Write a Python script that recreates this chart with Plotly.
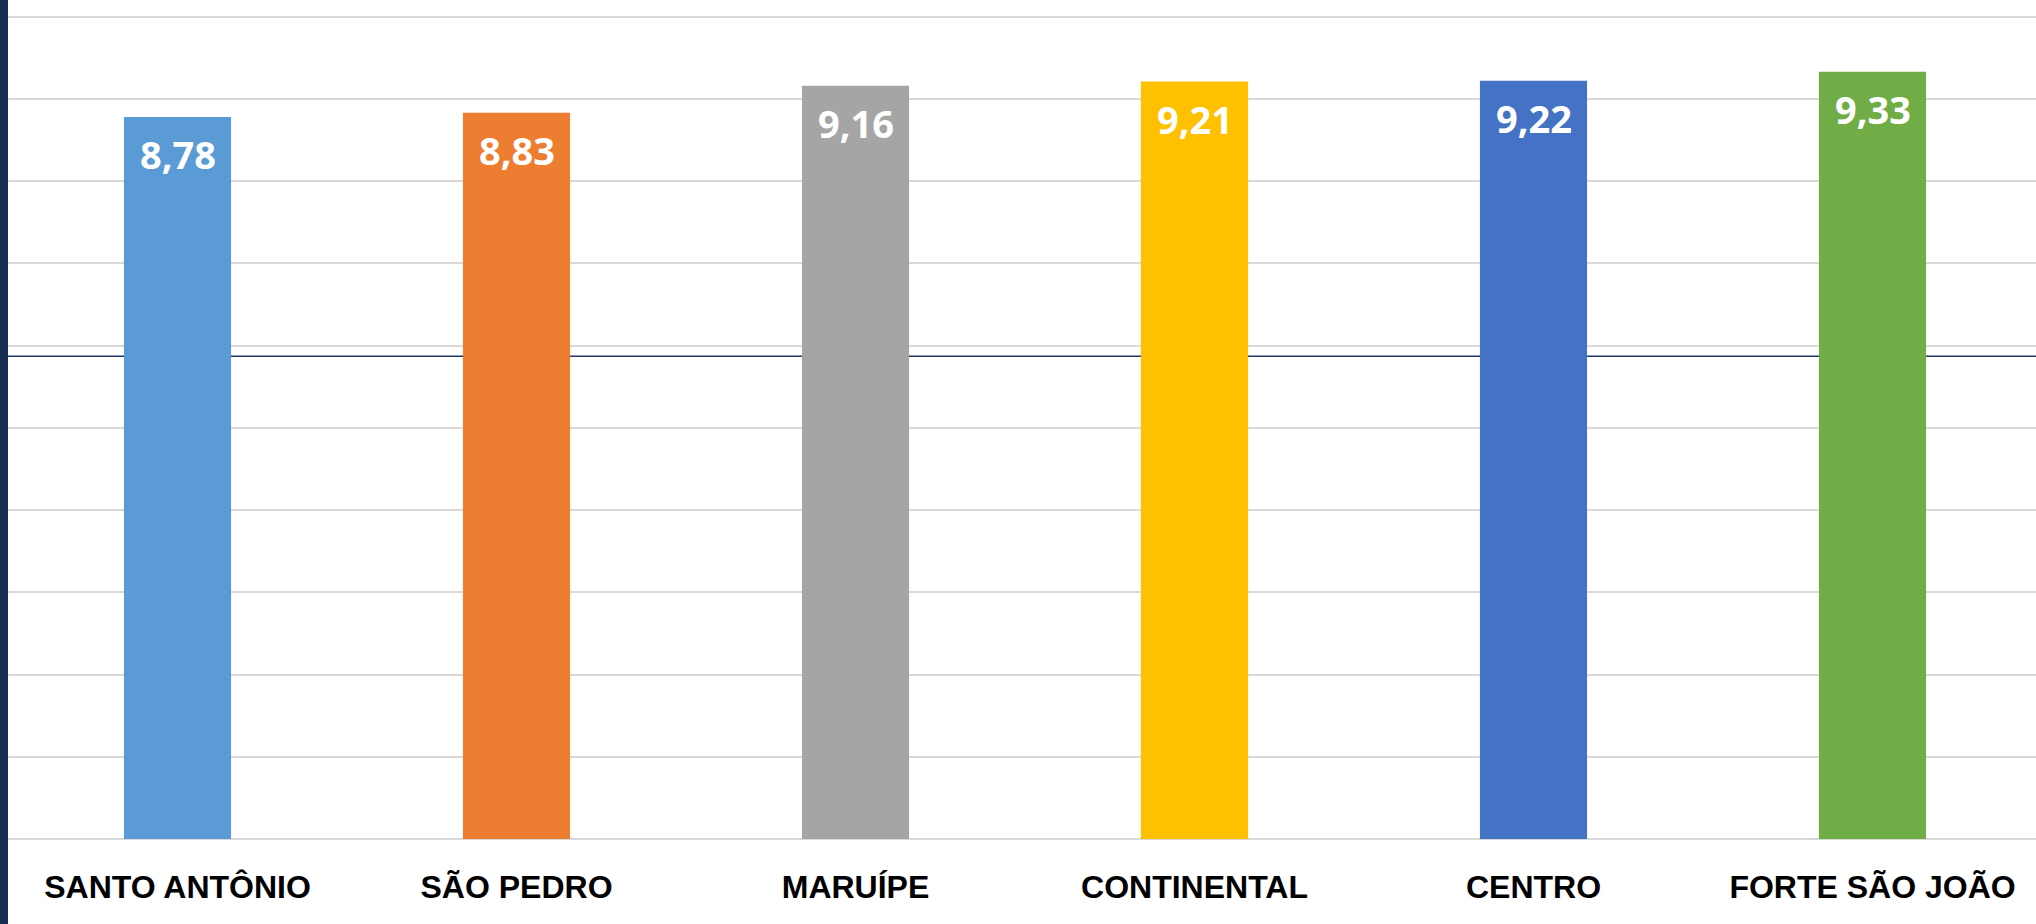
import plotly.graph_objects as go

categories = ["SANTO ANTÔNIO", "SÃO PEDRO", "MARUÍPE", "CONTINENTAL", "CENTRO", "FORTE SÃO JOÃO"]
values = [8.78, 8.83, 9.16, 9.21, 9.22, 9.33]
value_labels = ["8,78", "8,83", "9,16", "9,21", "9,22", "9,33"]
colors = ["#5B9BD5", "#ED7D31", "#A5A5A5", "#FFC000", "#4472C4", "#70AD47"]
reference_line = 5.87

W, H = 2036, 924
ml, mt, mb = 8, 14.9, 85.3

fig = go.Figure()
fig.add_trace(go.Bar(
    x=categories, y=values,
    marker=dict(color=colors, line=dict(width=0)),
    width=0.316,
    hoverinfo="skip",
))

for c, v, t in zip(categories, values, value_labels):
    fig.add_annotation(
        x=c, y=v, text=t, showarrow=False,
        yanchor="middle", yshift=-37,
        font=dict(family="Open Sans", size=38, color="white", weight="bold"),
    )

fig.add_shape(type="line", xref="paper", yref="y", x0=0, x1=1,
              y0=reference_line, y1=reference_line,
              line=dict(color="#1F3864", width=1.5), layer="below")

# left dark strip
plot_w = W - ml
fig.add_shape(type="rect", xref="paper", yref="paper",
              x0=-ml / plot_w, x1=0, y0=-0.2, y1=1.2,
              fillcolor="#172D52", line=dict(width=0), layer="above")

fig.update_layout(
    width=W, height=H,
    margin=dict(l=ml, r=0, t=mt, b=mb, pad=0),
    paper_bgcolor="white", plot_bgcolor="white",
    showlegend=False,
    xaxis=dict(
        range=[-0.5, 5.5 - 6 / 339],
        showgrid=False, zeroline=False,
        showline=False,
        ticks="", ticklabelstandoff=26,
        tickfont=dict(family="Liberation Sans", size=32, color="black", weight="bold"),
    ),
    yaxis=dict(
        range=[0, 10.02], dtick=1, tick0=0,
        showgrid=True, gridcolor="#D9D9D9", gridwidth=1.5,
        zeroline=True, zerolinecolor="#D9D9D9", zerolinewidth=1.5,
        showticklabels=False, ticks="",
    ),
)

fig.write_html("out.html", config={"displayModeBar": False},
               post_script="document.body.style.margin='0';")
